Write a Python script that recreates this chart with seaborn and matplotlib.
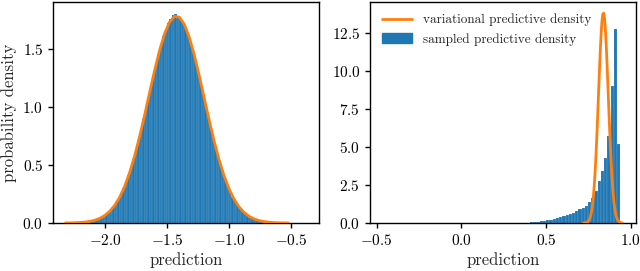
import numpy as np
import pandas as pd
import matplotlib
matplotlib.use("Agg")
import matplotlib.pyplot as plt
import seaborn as sns
from matplotlib.lines import Line2D
from matplotlib.patches import Patch

# ---------------- data ----------------
# left panel: sampled histogram, bins of width 0.02 starting at -2.32
left_bin_start = -2.32
left_bin_width = 0.02
left_hist = [
    0.0007, 0.0010, 0.0015, 0.0020, 0.0028, 0.0038, 0.0052, 0.0071, 0.0095, 0.0126,
    0.0166, 0.0218, 0.0282, 0.0364, 0.0464, 0.0589, 0.0741, 0.0924, 0.114, 0.140,
    0.171, 0.207, 0.250, 0.298, 0.350, 0.412, 0.478, 0.552, 0.630, 0.714,
    0.802, 0.893, 0.990, 1.085, 1.180, 1.276, 1.368, 1.455, 1.535, 1.605,
    1.670, 1.720, 1.752, 1.790, 1.800, 1.778, 1.758, 1.727, 1.683, 1.627,
    1.560, 1.484, 1.401, 1.312, 1.219, 1.124, 1.027, 0.931, 0.838, 0.748,
    0.663, 0.582, 0.507, 0.439, 0.376, 0.320, 0.270, 0.226, 0.188, 0.155,
    0.127, 0.103, 0.0828, 0.066, 0.0524, 0.0411, 0.0321, 0.0248, 0.019, 0.0145,
    0.0109, 0.0082, 0.0061, 0.0045, 0.0033, 0.0024, 0.0017, 0.0012, 0.0009, 0.0006,
    0.0004,
]
# left panel: variational density curve
left_curve_x = [-2.32, -2.28, -2.24, -2.20, -2.16, -2.12, -2.08, -2.04, -2.00, -1.96,
                -1.92, -1.88, -1.84, -1.80, -1.76, -1.72, -1.68, -1.64, -1.60, -1.56,
                -1.52, -1.48, -1.44, -1.40, -1.36, -1.32, -1.28, -1.24, -1.20, -1.16,
                -1.12, -1.08, -1.04, -1.00, -0.96, -0.92, -0.88, -0.84, -0.80, -0.76,
                -0.72, -0.68, -0.64, -0.60, -0.56, -0.52]
left_curve_y = [0.0006, 0.0012, 0.0024, 0.0045, 0.0082, 0.0145, 0.0248, 0.0411, 0.066, 0.103,
                0.155, 0.226, 0.320, 0.439, 0.582, 0.748, 0.931, 1.124, 1.312, 1.484,
                1.627, 1.727, 1.776, 1.769, 1.707, 1.595, 1.444, 1.266, 1.075, 0.884,
                0.705, 0.544, 0.407, 0.295, 0.2065, 0.140, 0.0924, 0.0589, 0.0364, 0.0218,
                0.0126, 0.0071, 0.0038, 0.0020, 0.0010, 0.0005]

# right panel: sampled histogram, bins of width 0.019 starting at 0.3295
right_bin_start = 0.3295
right_bin_width = 0.019
right_hist = [
    0.01, 0.015, 0.02, 0.03, 0.04, 0.06, 0.08, 0.10, 0.13, 0.17,
    0.22, 0.27, 0.32, 0.38, 0.45, 0.52, 0.60, 0.68, 0.78, 0.90,
    1.00, 1.15, 1.40, 1.65, 2.10, 2.75, 3.40, 4.30, 5.70, 9.00,
    12.80, 5.20,
]
# right panel: variational density curve
right_curve_x = [0.720, 0.725, 0.730, 0.735, 0.740, 0.745, 0.750, 0.755, 0.760, 0.765,
                 0.770, 0.775, 0.780, 0.785, 0.790, 0.795, 0.800, 0.805, 0.810, 0.815,
                 0.820, 0.825, 0.830, 0.835, 0.840, 0.845, 0.850, 0.855, 0.860, 0.865,
                 0.870, 0.875, 0.880, 0.885, 0.890, 0.895, 0.900, 0.905, 0.910, 0.915,
                 0.920, 0.925, 0.930, 0.935, 0.940, 0.945, 0.950]
right_curve_y = [0.0035, 0.007, 0.0135, 0.0253, 0.0459, 0.081, 0.139, 0.230, 0.372, 0.583,
                 0.886, 1.308, 1.874, 2.607, 3.521, 4.614, 5.870, 7.249, 8.691, 10.112,
                 11.424, 12.526, 13.333, 13.776, 13.817, 13.453, 12.714, 11.663, 10.386, 8.979,
                 7.534, 6.137, 4.853, 3.724, 2.776, 2.007, 1.409, 0.960, 0.635, 0.408,
                 0.254, 0.154, 0.090, 0.052, 0.029, 0.015, 0.008]

legend_labels = ["variational predictive density", "sampled predictive density"]
x_label = "prediction"
y_label = "probability density"

BLUE = "#1f77b4"
ORANGE = "#ff7f0e"

# ---------------- style ----------------
sns.set_theme(style="ticks")
plt.rcParams.update({
    "font.family": ["cmr10", "DejaVu Serif"],
    "mathtext.fontset": "cm",
    "axes.formatter.use_mathtext": True,
    "axes.unicode_minus": True,
    "axes.edgecolor": "black",
    "axes.linewidth": 1.0,
    "xtick.color": "black",
    "ytick.color": "black",
    "xtick.labelsize": 11,
    "ytick.labelsize": 11,
    "axes.labelsize": 12,
    "xtick.major.size": 3.5,
    "ytick.major.size": 3.5,
    "xtick.major.width": 1.0,
    "ytick.major.width": 1.0,
})

fig = plt.figure(figsize=(6.4, 2.71), dpi=100)
axL = fig.add_axes([0.0828, 0.1771, 0.4156, 0.8155])
axR = fig.add_axes([0.578, 0.1771, 0.4156, 0.8155])


def draw(ax, start, width, heights, cx, cy):
    n = len(heights)
    edges = [start + width * i for i in range(n + 1)]
    centers = [start + width * (i + 0.5) for i in range(n)]
    df = pd.DataFrame({"x": centers, "w": heights})
    sns.histplot(data=df, x="x", weights="w", bins=edges, stat="count",
                 color=BLUE, alpha=1.0, edgecolor=(1, 1, 1, 0.3), linewidth=0.3, ax=ax)
    cdf = pd.DataFrame({"x": cx, "y": cy})
    sns.lineplot(data=cdf, x="x", y="y", color=ORANGE, linewidth=2.0,
                 sort=False, ax=ax, zorder=5)
    for s in ax.spines.values():
        s.set_visible(True)
        s.set_color("black")


draw(axL, left_bin_start, left_bin_width, left_hist, left_curve_x, left_curve_y)
draw(axR, right_bin_start, right_bin_width, right_hist, right_curve_x, right_curve_y)

axL.set_xlim(-2.42, -0.274)
axL.set_ylim(0, 1.90)
axL.set_xticks([-2.0, -1.5, -1.0, -0.5])
axL.set_yticks([0.0, 0.5, 1.0, 1.5])
axL.set_xlabel(x_label, labelpad=3)
axL.set_ylabel(y_label)

axR.set_xlim(-0.54, 1.03)
axR.set_ylim(0, 14.55)
axR.set_xticks([-0.5, 0.0, 0.5, 1.0])
axR.set_yticks([0.0, 2.5, 5.0, 7.5, 10.0, 12.5])
axR.set_xlabel(x_label, labelpad=3)
axR.set_ylabel("")

handles = [Line2D([0], [0], color=ORANGE, linewidth=2.0),
           Patch(facecolor=BLUE, edgecolor=BLUE)]
axR.legend(handles, legend_labels, loc="upper left", frameon=False,
           fontsize=9.5, handlelength=2.3)

fig.savefig("out.png", dpi=100)
